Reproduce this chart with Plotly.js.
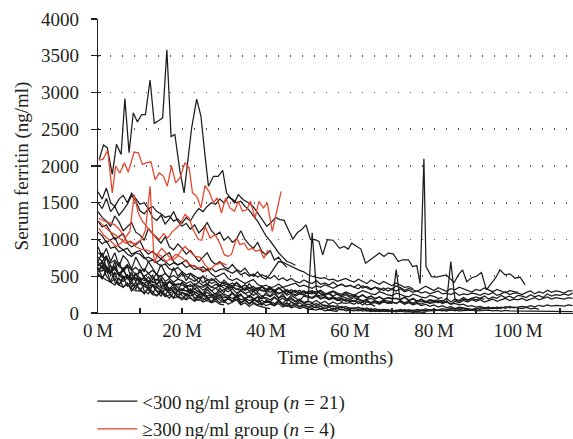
<!DOCTYPE html>
<html>
<head>
<meta charset="utf-8">
<script src="https://cdn.plot.ly/plotly-3.0.1.min.js"></script>
<style>html,body{margin:0;padding:0;background:#fff;}#chart{width:573px;height:439px;}</style>
</head>
<body>
<div id="chart"></div>
<script>
// Monthly sampling grid (months)
const M = [0,1,2,3,4,5,6,7,8,9,10,11,12,13,14,15,16,17,18,19,20,21,22,23,24,25,26,27,28,29,30,31,32,33,34,35,36,37,38,39,40,41,42,43,44,45,46,47,48,49,50,51,52,53,54,55,56,57,58,59,60,61,62,63,64,65,66,67,68,69,70,71,72,73,74,75,76,77,78,79,80,81,82,83,84,85,86,87,88,89,90,91,92,93,94,95,96,97,98,99,100,101,102,103,104,105,106,107,108,109,110,111,112,113];

// x-axis tick labels
const xTickVals = [0,10,20,30,40,50,60,70,80,90,100,110];
const xTickText = ['0\u2009M','','20\u2009M','','40\u2009M','','60\u2009M','','80\u2009M','','100\u2009M',''];

// ---- <300 ng/ml group (black), 21 patients ----
const b1_t = [0.3,1.3,2.2,3.4,4.4,5.5,6.4,7.4,8.4,9.4,10.4,11.3,12.4,13.4,14.5,15.4,16.4,17.4,18.3,19.5,20.5,21.4,22.3,23.5,24.5,25.5,26.3,27.5,28.6,29.7,30.6,31.6,32.5,33.4,34.6,35.8,36.9,37.8,38.6,39.4,40.2,41.2,42.3,43.3,44.3,45.3,46.4,47.5,48.5,49.5,50.6,51.7,52.6,53.5,54.6,56,57.5,58.6,59.6,60.4,61.6,62.6,63.7,64.8,66,67,68.1,69.1,70.3,71.5,72.5,73.9,74.9,75.9,76.7,77.6,78.1,79.4,80.6,81.8,82.9,84.8,85.8,86.8,87.8,89,90.1,91.3,92.5,93.7,94.7,95.7,96.9,98.1,99.3,100.5,101.7];
const b1_v = [2090,2285,2250,1885,2295,2157,2917,2180,2725,2600,2700,2700,3170,2580,2620,2655,3580,2400,2430,1930,1635,2100,2520,2910,2680,2135,1725,1860,1860,1940,1635,1560,1500,1610,1540,1500,1450,1380,1315,1250,1180,1230,1300,1270,1260,1135,1005,1095,1135,1200,997,997,975,790,997,990,880,905,870,950,905,870,678,724,770,815,770,815,805,700,724,724,632,645,400,2100,632,495,487,505,519,414,519,587,427,480,500,550,314,405,480,587,519,532,473,487,382];
const b2_v = [1650,1550,1700,1500,1450,1550,1600,1500,1630,1550,1480,1500,1420,1450,1380,1350,1300,1320,1250,1280,1220,1300,1250,1350,1420,1380,1450,1500,1480,1550,1500,1580,1550,1500,1520,1450,1400,1320,1250,1150,1050,980,900,820,760,700,680,650];
const b3_v = [1500,1420,1560,1380,1450,1330,1400,1480,1600,1520,1390,1350,1420,1300,1260,1330,1210,1280,1380,1250,1180,1220,1140,1200,1090,1150,1230,1120,1060,1100,990,1040,960,1010,1120,1000,930,880,960,840,790,850,720,760,680,620];
const b4_v = [1380,1300,1250,1180,1320,1240,1120,1170,1230,1100,1060,990,1150,1080,1010,950,1040,900,860,940,880,800,850,770,700,760,820,710,660,700,630,600,660,590,560,610,530,500,560,490,460,530,620,700,690,660,640,600,580,560,520,500,490,470,480,450,460,430,450,470,440,420,460,430,400,450,420,390,430,400,370,410,380,350,360,330];
const b5_v = [1250,1170,1200,1090,1000,1040,1080,950,900,930,980,860,800,840,780,740,790,820,700,650,690,720,640,590,610,560,600,530,490,520,545,470,440,470,430,400,430,455,390,360,380,340,310,330,350,290,270,300,280,250,280,300,250,230,240,265,215,200,225,205,185,210,190,170,185,200,165,150,175,160,150];
const b6_v = [1100,1050,960,990,1030,900,860,880,800,830,850,760,700,720,680,640,670,600,580,620,560,520,540,500,470,500,460,440,470,420,400,380,410,370,350,380,340,320,345,310,290,320,300,270,280,300,260,250,280,300,270,260,290,265,245,280,300,270,255,285,260,240,275,305,285,260,250,290,270,245,235,270,255,230,220,255,240,215,205,240,225,200,210];
const b7_v = [1000,940,980,880,900,830,860,800,770,820,800,740,760,720,690,730,700,650,680,660,680,620,650,640,600,630,580,610,560,590,600,570,540,580,520,550,500,530,490,520,500,470,510,450,480,440,470,430,410,450,420,400,440,390,410,380,420,370,390,360,380,350,390,340,360,330,350,310,340,300,320,300,330,290,310,280,300,270,290,260,280,300,260,270,250,280,240,260,250,270,260,240,270,250,280,240,260,290,250,270,270,250,280,300,260,290,270,310,280,300,290,270,300,300];
const b8_v = [900,760,880,700,820,640,780,720,600,760,650,560,700,600,520,660,540,480,620,500,560,440,530,470,420,510,380,470,430,360,450,390,340,420,360,310,400,330,290,370,320,360,280,340,300,260,320,280,310,270,290,300,280,310,270,260,290,250,240,270,230,250,220,240,210,230,200,220,190,210,200,200,180,210,170,190,160,180,150,170,160,150,140,160,120,130,110,120,90,100,80,90,70,80,60,70,60];
const b9_v = [820,780,740,680,720,630,600,660,580,620,560,600,540,580,520,500,540,480,510,470,530,500,460,430,480,410,450,400,430,380,420,400,370,410,350,380,340,360,320,350,310,330,300,350,290,320,280,310,270,300,260,280,260,300,250,270,230,260,220,250,210,230,210,250,200,230,190,220,180,210,190,200,180,220,170,200,160,190,150,180,170,180,160,200,150,190,170,210,180,200,220,200,230,190,220,200,240,210,230,200,240,230,210,250,220,240,210,260,230,250,240,260,240,270,250];
const b10_v = [760,700,780,640,600,690,560,640,590,520,560,500,540,470,450,510,430,470,420,460,440,400,430,380,420,370,400,350,390,360,380,340,370,320,350,310,340,290,330,300,300,280,310,260,290,240,270,230,260,250,230,210,250,200,220,190,210,180,200,170,170,160,190,150,170,140,160,130,150,140,130,590,150,120,140,110,130,100,120,90,110,80,100,70,90,60,80,70,60];
const b11_v = [700,820,600,540,700,500,620,460,560,420,600,470,400,520,380,480,330,440,390,300,420,350,280,380,320,260,360,300,250,340,280,380,260,230,320,270,210,300,250,190,280,230,300,200,260,180,240,210,170,230,220,200,230,190,210,180,200,170,190,160,180,160,190,150,170,140,160,130,150,140,150,130,160,120,150,130,140,120,150,130,140,160,130,150,120,160,140,170,150,180,160,180,150,170,190,160,180,200,170,190,180,200,170,190,210,180,200,220,190,210,200,190,210,200];
const b12_v = [650,700,620,560,600,540,580,500,470,520,480,440,490,420,400,450,380,420,370,400,380,350,390,330,360,310,350,300,340,290,320,290,330,270,300,260,290,240,280,230,250,220,260,200,230,180,210,160,190,140,150,1090,320,260,230,200,220,180,160,190,150,170,130,150,110,120,90];
const b13_v = [620,480,560,650,420,380,500,360,440,320,480,300,260,380,290,230,340,270,210,310,240,190,280,200,170,250,220,150,230,180,140,210,160,250,130,190,120,170,220,110,160,140,100,180,120,90,150,110,140,100,120,100,130,90,110,80,100,70,90,60,70,60,80,50,70,40,60,40,50,40,40,30,50,30,45,30,50,35,55,40,50,40,60,45,65,50,70,55,60,50,60,70,55,75,60,80,65,85,70,80,70,60,75,55,65,50];
const b14_v = [600,620,640,560,600,520,470,500,440,470,420,400,360,390,340,320,350,300,330,290,310,300,270,290,250,270,230,250,220,240,210,220,200,230,180,200,170,190,150,170,140,150,130,160,110,130,100,120,90,110,80,90,70,90,60,80,50,70,40,60,40,40,30,50,25,40,20,35,25,30,20,30,20,35,25,30,20,35,25,30,30,30,40,25,45,30,50,35,55,40,60,50,70,55,75,60,80,65,90,70,85,90,80,100,85,105,90,110,95,105,100,95,110,100,100];
const b15_v = [580,650,500,430,560,380,460,520,350,420,300,390,330,260,370,280,240,340,300,210,280,230,320,190,250,200,170,240,180,260,160,200,150,230,140,180,120,190,150,110,170,130,100,160,110,140,90,120,80,100,80,60,90,50,70,40,60,35,55,30,40,30,45,25,40,20,35,20,30,20,25,15,25,15,20,10,15,10,10];
const b16_v = [560,580,600,520,500,460,430,480,400,370,400,360,330,370,300,280,320,270,300,250,280,260,230,260,210,240,200,220,180,210,170,190,160,190,140,170,130,150,110,140,100,120,100,130,80,110,70,90,60,80,50,50,40,60,30,40,25,20];
const b17_v = [700,600,760,560,640,500,580,640,460,540,420,500,380,460,540,360,420,320,400,350,300,380,270,330,290,240,320,260,220,300,240,190,280,220,260,180,240,200,160,230,190,150,210,170,130,190,150,120,170,130,110,130,100,130,90,110,80,100,70,90,60,70,50,70,40,60,35,50,30,45,30,40,30,45,30,40,25,40,30,45,35,40,30,45,35,40,30,35,30,40,30,35,30,40,30,35,25,35,30,30,25,30,25,30,20,30,25,20,25,20,25,20,25,20,20];
const b18_v = [640,680,580,540,620,510,470,520,450,480,440,400,440,370,390,340,380,320,350,310,330,300,330,270,300,250,280,240,270,230,260,230,270,210,240,200,230,190,220,200,210,180,220,170,200,160,190,150,180,140,160,140,170,130,160,120,150,120,140,130,140,120,160,110,150,130,140,120,160,130,150,130,170,140,160,130,170,150,160,140,160,140,170,150,700,180,160,190,170,200,180,200,190];
const b19_v = [540,460,600,420,380,480,350,410,300,380,330,260,350,290,230,310,250,200,280,220,180,260,200,160,230,170,210,150,190,140,170,120,150,180,110,140,90,130,100,80,70,60];
const b20_v = [600,570,620,560,520,545,500,480,520,470,450,480,440,420,455,415,395,430,400,380,410,375,360,395,365,350,385,350,335,370,340,325,355,320,310,345,305,295,330,365,320,340,360,395,350,370,385,405,360,380,355,335,370,350,385,360,335,365,395,360,375,350,330,370,345,315,350,335,305,340,325,370,345,310,335,320,295,330,365,335,305,345,325,295,330,315,350,330,305,285,320,305,340,315,290,320,300,275,305,290,280];
const b21_v = [520,480,450,420,470,380,350,400,330,300,300,280,320,250,240,280,220,250,200,230,200,180,210,160,190,150,170,140,160,120,110];

// ---- >=300 ng/ml group (red), 4 patients ----
const r1_t = [0.2,1.2,2.3,3.4,4.2,5.2,6.3,7.2,8.6,9.6,10.6,11.6,12.6,13.6,14.6,15.6,16.5,17.5,18.5,19.5,20.7,21.7,22.5,23.5,24.5,25.5,26.4,27.5,28.4,29.4,30.4,31.4,32.5,33.4,34.4,35.4,36.3,37.4,38.3,39.4,40.3,41.5,43.6];
const r1_v = [2080,2090,2215,1635,2000,1905,2045,1915,2190,2180,2020,2045,2057,1815,1905,1860,1725,2000,1770,1840,2045,1975,1635,1590,1430,1735,1655,1500,1565,1360,1565,1430,1385,1520,1385,1405,1520,1290,1520,1430,1500,1110,1655];
const r2_t = [0.2,1.7,2.9,4,5.2,6.4,7.6,8.6,9.6,10.6,11.6,12.6,13.6,14.6,15.6,16.6,17.6,18.6,19.5,20.7,21.7,22.7,23.9,24.7,25.5,26.7,27.9,29,30.1,31,31.8,33,33.8,34.8,35.8,36.7,37.6,38.6,39.5,40.5];
const r2_v = [1290,1245,1225,1200,1130,1020,1110,1610,1360,1245,1180,1100,1050,1000,1080,1020,1100,1150,1200,1340,1290,1130,1000,990,1180,1020,1065,950,790,770,800,1020,930,950,860,880,840,860,745,860];
const r3_t = [0.2,1.5,3,4.4,5.4,6.4,7.6,8.8,10.4,11.3,12.4,13.4,14.4,15.2,16.4,17.6,18.8,19.8,20.7,21.9,23.1,24.3,25.5,26.7,27.9,29.4,30.6];
const r3_v = [1150,1050,980,905,950,1000,960,940,1000,1130,1725,680,820,880,800,720,760,850,905,837,770,760,655,587,655,680,655];
const r4_t = [0.2,1.5,3,4.2,5.4,6.6,7.8,9,10.2,11.4,12.6,13.8,15,16.2,17.4,18.6,19.8,21,22.2,23.4,24.6,25.8];
const r4_v = [1250,1180,1100,1060,1000,950,980,900,870,860,830,800,780,700,740,800,760,700,650,620,600,560];

const BLACK = '#1e1c1c';
const RED = '#e8432a';
const nameLow = '&lt;300\u2009ng/ml group (<i>n</i> = 21)';
const nameHigh = '\u2265300\u2009ng/ml group (<i>n</i> = 4)';

function tr(x, y, color, name, show) {
  return {type:'scatter', mode:'lines', x:x, y:y, name:name, legendgroup:name,
          showlegend:show, hoverinfo:'skip', line:{color:color, width:1.25}};
}
const blackMonthly = [b2_v,b3_v,b4_v,b5_v,b6_v,b7_v,b8_v,b9_v,b10_v,b11_v,b12_v,b13_v,b14_v,b15_v,b16_v,b17_v,b18_v,b19_v,b20_v,b21_v];
const traces = [tr(b1_t, b1_v, BLACK, nameLow, true)];
blackMonthly.forEach(v => traces.push(tr(M.slice(0, v.length), v, BLACK, nameLow, false)));
traces.push(tr(r1_t, r1_v, RED, nameHigh, true));
traces.push(tr(r2_t, r2_v, RED, nameHigh, false));
traces.push(tr(r3_t, r3_v, RED, nameHigh, false));
traces.push(tr(r4_t, r4_v, RED, nameHigh, false));
// empty helper trace so the inside-tick overlay axis is drawn
traces.push({type:'scatter', mode:'lines', x:[], y:[], yaxis:'y2', showlegend:false, hoverinfo:'skip'});

const INK = '#231f20';
const layout = {
  width:573, height:439,
  margin:{l:98, r:0, t:19, b:126, autoexpand:false},
  paper_bgcolor:'#ffffff', plot_bgcolor:'#ffffff',
  font:{family:'"Liberation Serif", "DejaVu Serif", serif', size:19, color:INK},
  showlegend:true,
  xaxis:{range:[0,113.1], tickmode:'array', tickvals:xTickVals, ticktext:xTickText,
         ticks:'inside', ticklen:5, tickwidth:1.2, tickcolor:INK,
         showline:true, linecolor:INK, linewidth:1.3, showgrid:false, zeroline:false,
         tickfont:{size:19}, fixedrange:true,
         title:{text:'Time (months)', font:{size:19.5}, standoff:10}},
  yaxis:{range:[0,4000], tickmode:'linear', tick0:0, dtick:500,
         ticks:'outside', ticklen:6, tickwidth:1.2, tickcolor:INK, ticklabelstandoff:8,
         showline:true, linecolor:INK, linewidth:1.3,
         showgrid:true, gridcolor:'#555555', gridwidth:1.6, griddash:'1.2px,10.8px',
         zeroline:false, tickfont:{size:19}, fixedrange:true,
         title:{text:'Serum ferritin (ng/ml)', font:{size:19}, standoff:7}},
  yaxis2:{overlaying:'y', side:'left', range:[0,4000], tickmode:'linear', tick0:0, dtick:500,
          ticks:'inside', ticklen:3, tickwidth:1.2, tickcolor:INK, showticklabels:false,
          showgrid:false, zeroline:false, showline:false, fixedrange:true},
  legend:{x:-0.012, xanchor:'left', y:-0.236, yanchor:'top', orientation:'v',
          bgcolor:'rgba(0,0,0,0)', font:{size:19}, itemwidth:40, traceorder:'normal'}
};
Plotly.newPlot('chart', traces, layout, {displayModeBar:false, staticPlot:true});
</script>
</body>
</html>
